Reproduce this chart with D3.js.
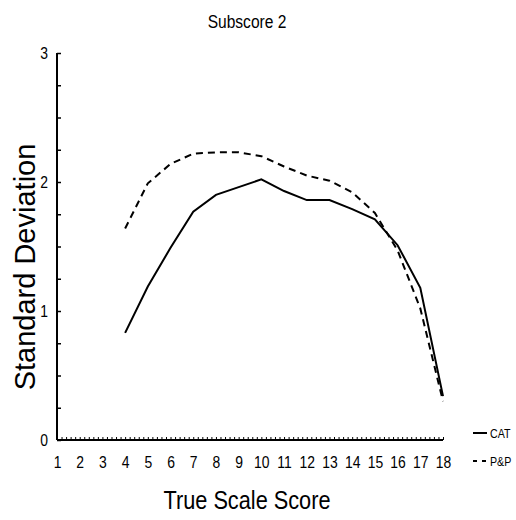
<!DOCTYPE html>
<html>
<head>
<meta charset="utf-8">
<script src="https://cdn.jsdelivr.net/npm/d3@7"></script>
<style>
  body { margin: 0; background: #fff; }
  svg { display: block; font-family: "Liberation Sans", Arial, sans-serif; }
</style>
</head>
<body>
<div id="chart"></div>
<script>
// Chart size
const width = 516;
const height = 520;
const margin = { top: 53, right: 73, bottom: 80, left: 57 };
const narrow = 0.82; // horizontal squeeze to imitate a condensed face

// Data
const scores = [4, 5, 6, 7, 8, 9, 10, 11, 12, 13, 14, 15, 16, 17, 18];
const catSD = [0.83, 1.19, 1.49, 1.77, 1.90, 1.96, 2.02, 1.93, 1.86, 1.86, 1.79, 1.71, 1.51, 1.18, 0.34];
const ppSD = [1.64, 1.99, 2.14, 2.22, 2.23, 2.23, 2.20, 2.12, 2.05, 2.01, 1.92, 1.76, 1.47, 1.02, 0.30];
const xTickLabels = d3.range(1, 19);
const yTickLabels = [0, 1, 2, 3];

const svg = d3.select("#chart")
  .append("svg")
  .attr("width", width)
  .attr("height", height);

// Scales
const xScale = d3.scaleLinear()
  .domain([1, 18])
  .range([margin.left, width - margin.right]);

const yScale = d3.scaleLinear()
  .domain([0, 3])
  .range([height - margin.bottom, margin.top]);

// Minor ticks on x axis (pointing up)
const xMinor = d3.range(1, 18.001, 0.2);
svg.append("g")
  .attr("transform", `translate(0, ${yScale(0)})`)
  .call(d3.axisBottom(xScale).tickValues(xMinor).tickSize(-3).tickFormat(""))
  .call(g => g.select(".domain").remove())
  .call(g => g.selectAll("line").attr("stroke", "#000").attr("stroke-width", 1));

// Minor ticks on y axis (pointing right)
const yMinor = d3.range(0, 3.001, 0.25);
svg.append("g")
  .attr("transform", `translate(${xScale(1)}, 0)`)
  .call(d3.axisLeft(yScale).tickValues(yMinor).tickSize(-4).tickFormat(""))
  .call(g => g.select(".domain").remove())
  .call(g => g.selectAll("line").attr("stroke", "#000").attr("stroke-width", 1.5));

// Axis lines
svg.append("line")
  .attr("x1", xScale(1)).attr("x2", xScale(18))
  .attr("y1", yScale(0)).attr("y2", yScale(0))
  .attr("stroke", "#000").attr("stroke-width", 2);

svg.append("line")
  .attr("x1", xScale(1)).attr("x2", xScale(1))
  .attr("y1", yScale(0)).attr("y2", yScale(3))
  .attr("stroke", "#000").attr("stroke-width", 2);

// Tick labels
const xLabels = svg.append("g")
  .attr("transform", `translate(0, ${yScale(0)})`)
  .call(d3.axisBottom(xScale).tickValues(xTickLabels).tickSize(0).tickPadding(16).tickFormat(d3.format("d")));
xLabels.select(".domain").remove();
xLabels.selectAll("text")
  .attr("font-family", null)
  .attr("font-size", 17)
  .attr("fill", "#000")
  .attr("transform", `scale(${narrow},1)`);

const yLabels = svg.append("g")
  .attr("transform", `translate(${xScale(1)}, 0)`)
  .call(d3.axisLeft(yScale).tickValues(yTickLabels).tickSize(0).tickPadding(9).tickFormat(d3.format("d")));
yLabels.select(".domain").remove();
yLabels.selectAll("text")
  .attr("font-size", 17)
  .attr("fill", "#000")
  .attr("x", -9 / narrow)
  .attr("transform", `scale(${narrow},1)`);
svg.selectAll(".tick text").attr("font-family", null);
svg.selectAll("g").attr("font-family", null);

// Lines
const lineGenerator = d3.line()
  .x((d) => xScale(d.score))
  .y((d) => yScale(d.sd));

const catData = scores.map((s, i) => ({ score: s, sd: catSD[i] }));
const ppData = scores.map((s, i) => ({ score: s, sd: ppSD[i] }));

svg.append("path")
  .datum(ppData)
  .attr("d", lineGenerator)
  .attr("fill", "none")
  .attr("stroke", "#000")
  .attr("stroke-width", 2)
  .attr("stroke-dasharray", "7,5");

svg.append("path")
  .datum(catData)
  .attr("d", lineGenerator)
  .attr("fill", "none")
  .attr("stroke", "#000")
  .attr("stroke-width", 2);

// Title and axis labels
svg.append("text")
  .attr("transform", `translate(247, 28) scale(${narrow},1)`)
  .attr("text-anchor", "middle")
  .attr("font-size", 19)
  .text("Subscore 2");

svg.append("text")
  .attr("transform", `translate(247, 509) scale(${narrow},1)`)
  .attr("text-anchor", "middle")
  .attr("font-size", 26.5)
  .text("True Scale Score");

svg.append("text")
  .attr("transform", "rotate(-90)")
  .attr("x", -267)
  .attr("y", 35)
  .attr("text-anchor", "middle")
  .attr("font-size", 29)
  .text("Standard Deviation");

// Legend
const legend = [
  { name: "CAT", dash: null, y: 433 },
  { name: "P&P", dash: "4,5", y: 461 }
];

legend.forEach((d) => {
  svg.append("line")
    .attr("x1", 473).attr("x2", 487)
    .attr("y1", d.y).attr("y2", d.y)
    .attr("stroke", "#000")
    .attr("stroke-width", 2)
    .attr("stroke-dasharray", d.dash);
  svg.append("text")
    .attr("transform", `translate(490, ${d.y + 5}) scale(${narrow},1)`)
    .attr("font-size", 13)
    .text(d.name);
});
</script>
</body>
</html>
